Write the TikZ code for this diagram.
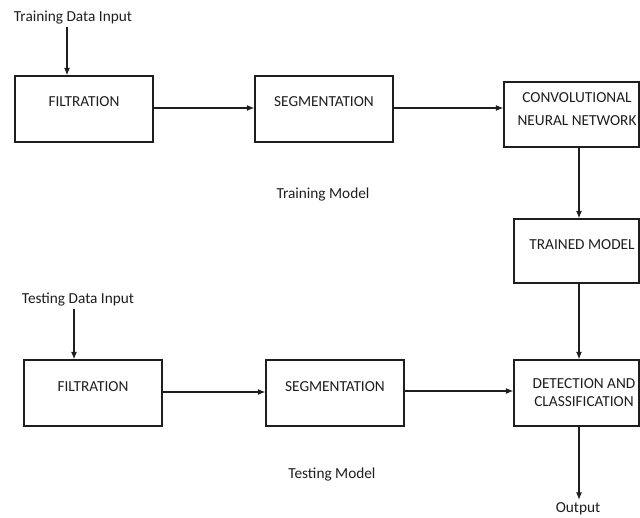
\documentclass[tikz,border=0pt]{standalone}
\usepackage{fontspec}
\setmainfont{Carlito}
\usetikzlibrary{arrows.meta}
\definecolor{ink}{HTML}{1E1E1E}
\tikzset{
  box/.style={draw=ink, line width=1.3pt, inner sep=0pt},
  txt/.style={inner sep=0pt, text=ink, font=\fontsize{15.3}{17}\selectfont, text height=9.9pt, text depth=0pt},
  arr/.style={draw=ink, line width=1.1pt, -{Latex[length=7.5pt,width=6pt]}}
}
\begin{document}
\begin{tikzpicture}[x=1pt,y=-1pt]
\useasboundingbox (0,0) rectangle (640,518);
% boxes
\node[box, minimum width=138pt, minimum height=66pt] (f1) at (84,109) {};
\node[box, minimum width=138pt, minimum height=66pt] (s1) at (324,109) {};
\node[box, minimum width=135pt, minimum height=65pt] (cnn) at (571.5,114.5) {};
\node[box, minimum width=125pt, minimum height=64pt] (tm) at (576.5,251) {};
\node[box, minimum width=138pt, minimum height=66pt] (f2) at (93,393) {};
\node[box, minimum width=138pt, minimum height=66pt] (s2) at (335,393) {};
\node[box, minimum width=125pt, minimum height=66pt] (det) at (576.5,393) {};
% box texts
\node[txt] (f1t) at (84,102) {FILTRATION};
\node[txt] (s1t) at (324,102) {SEGMENTATION};
\node[txt] (cnnt1) at (577,98) {CONVOLUTIONAL};
\node[txt] (cnnt2) at (577,121) {NEURAL NETWORK};
\node[txt] (tmt) at (582,245) {TRAINED MODEL};
\node[txt] (f2t) at (93,387) {FILTRATION};
\node[txt] (s2t) at (335,387) {SEGMENTATION};
\node[txt] (dett1) at (584,384) {DETECTION AND};
\node[txt] (dett2) at (584,402) {CLASSIFICATION};
% free labels
\node[txt] (tdi) at (73,17) {Training Data Input};
\node[txt] (trm) at (323,194) {Training Model};
\node[txt] (tsi) at (78,299) {Testing Data Input};
\node[txt] (tsm) at (332,474) {Testing Model};
\node[txt] (out) at (578,508) {Output};
% helper coordinates
\coordinate (a1) at (67,0);
\coordinate (a2) at (74,0);
\coordinate (v) at (579,0);
% connectors
\draw[arr] ([yshift=-5pt]tdi.south -| a1) -- (f1.north -| a1);
\draw[arr] ([yshift=-5pt]tsi.south -| a2) -- (f2.north -| a2);
\draw[arr] ([yshift=1pt]f1.east) -- ([yshift=1pt]s1.west);
\draw[arr] ([yshift=1pt]s1.east) -- ([yshift=1pt]s1.east -| cnn.west);
\draw[arr] (cnn.south -| v) -- (tm.north -| v);
\draw[arr] (tm.south -| v) -- (det.north -| v);
\draw[arr] ([yshift=1pt]f2.east) -- ([yshift=1pt]s2.west);
\draw[arr] ([yshift=2pt]s2.east) -- ([yshift=2pt]s2.east -| det.west);
\draw[arr] (det.south -| v) -- ([yshift=3pt]out.north -| v);
\end{tikzpicture}
\end{document}
